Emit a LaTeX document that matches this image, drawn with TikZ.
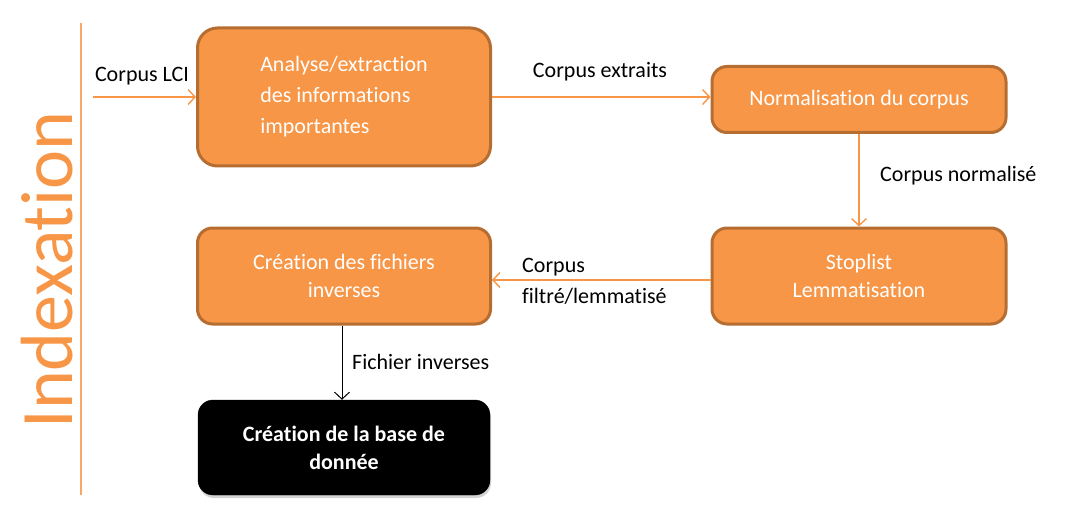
\documentclass[tikz,border=0pt]{standalone}
\usepackage{fontspec}
\setmainfont[Ligatures=NoCommon]{Carlito}
\usepackage{xcolor}
\usepackage{tikz}
\usetikzlibrary{arrows.meta,positioning,shadows}
\definecolor{idxOrange}{HTML}{F79646}
\definecolor{idxBorder}{HTML}{B66D31}
\definecolor{idxRule}{HTML}{F6A86A}
\tikzset{
  stagebox/.style={
    rounded corners=15pt,
    fill=idxOrange,
    draw=idxBorder,
    line width=3pt,
    text=white,
    align=center,
    font=\fontsize{22}{28}\selectfont
  },
  darkbox/.style={
    rounded corners=15pt,
    fill=black,
    draw=black,
    text=white,
    align=center,
    drop shadow={opacity=0.35,shadow xshift=1pt,shadow yshift=-3pt},
    font=\fontsize{22}{28}\selectfont\bfseries
  },
  flow/.style={
    -{Straight Barb[length=7pt,width=15pt]},
    line width=1.4pt,
    draw=idxOrange
  },
  darkflow/.style={
    -{Straight Barb[length=7pt,width=15pt]},
    line width=1pt,
    draw=black
  },
  lab/.style={
    font=\fontsize{22}{31}\selectfont,
    text=black,
    align=left,
    inner sep=0pt
  }
}
\begin{document}
\begin{tikzpicture}[x=1pt,y=-1pt]
\useasboundingbox (0,0) rectangle (1074,532);

% title and rule
\node[rotate=90, text=idxOrange, font=\fontsize{74}{74}\selectfont, inner sep=0pt] (title) at (47,270) {Indexation};
\coordinate (ruletop) at (81,23);
\coordinate (rulebot) at (81,495);
\draw[idxRule, line width=1.4pt] (ruletop) -- (rulebot);

% stages
\node[stagebox, rounded corners=20pt, minimum width=293pt, minimum height=138pt,
      align=left, font=\fontsize{22}{31}\selectfont] (analyse) at (344,97)
{Analyse/extraction\\des informations\\importantes};
\node[stagebox, minimum width=294pt, minimum height=66pt] (norm) at (859,99.5)
{Normalisation du corpus};
\node[stagebox, minimum width=294pt, minimum height=96pt] (stoplist) at (859,276)
{Stoplist\\Lemmatisation};
\node[stagebox, minimum width=293pt, minimum height=96pt] (fichiers) at (344,276)
{Création des fichiers\\inverses};
\node[darkbox, minimum width=292pt, minimum height=95pt] (base) at (344,447.5)
{Création de la base de\\donnée};

% connectors
\coordinate (lci) at (93,97);
\draw[flow] (lci) -- (analyse.west);
\draw[flow] (analyse.east) -- (analyse.east -| norm.west);
\draw[flow] (norm) -- (stoplist);
\draw[flow] (stoplist.west |- 0,280) -- (fichiers.east |- 0,280);
\draw[darkflow] ([xshift=-2pt]fichiers.south) -- ([xshift=-2pt]base.north);

% labels
\node[lab] (lablci) at (142,76) {Corpus LCI};
\node[lab] (labext) at (600,72) {Corpus extraits};
\node[lab, anchor=west] (labnorm) at (880,176) {Corpus normalisé};
\node[lab, anchor=west] (labfilt) at (522,281) {Corpus\\filtré/lemmatisé};
\node[lab, anchor=west] (labinv) at (352,362) {Fichier inverses};

\end{tikzpicture}
\end{document}
